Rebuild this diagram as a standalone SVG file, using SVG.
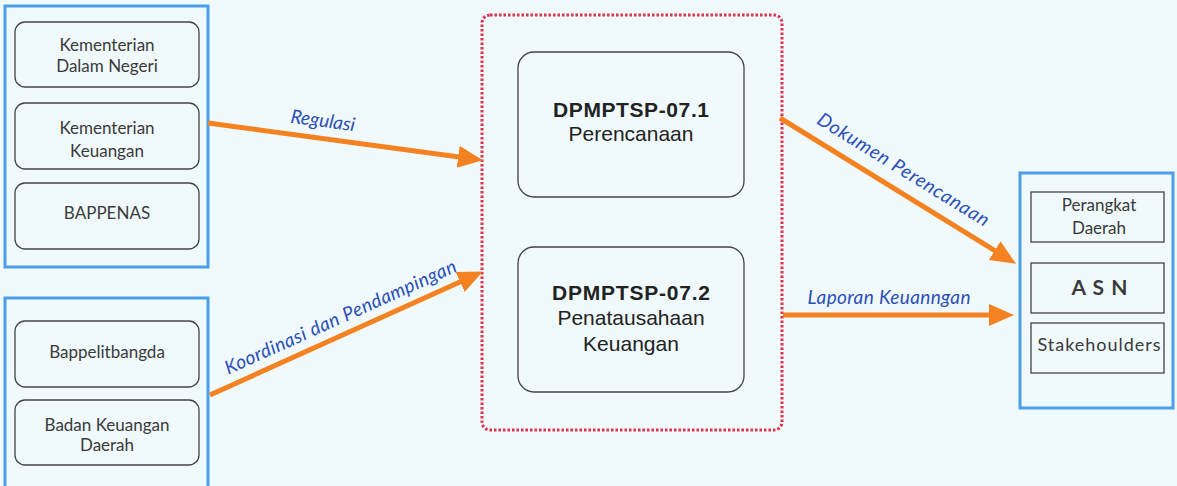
<svg xmlns="http://www.w3.org/2000/svg" width="1177" height="486" viewBox="0 0 1177 486">
<defs>
<style>
.grp{fill:none;stroke:#4a9fe8;stroke-width:3}
.box{fill:none;stroke:#444;stroke-width:1.3}
.t{font-family:Lato,"Open Sans",sans-serif;font-size:17px;fill:#3a3a3a;text-anchor:middle}
.m{font-family:"Liberation Sans",Arial,sans-serif;font-size:21px;fill:#222;text-anchor:middle}
.mb{font-weight:bold;font-size:21px}
.lbl{font-family:Lato,"Open Sans",sans-serif;font-style:italic;font-size:19px;fill:#2b4fb8;text-anchor:middle}
.arr{stroke:#f58220;stroke-width:5;fill:none;marker-end:url(#ah)}
</style>
<marker id="ah" markerUnits="userSpaceOnUse" markerWidth="26" markerHeight="24" refX="18" refY="11" orient="auto">
<path d="M0,0 L25,11 L0,22 z" fill="#f58220"/>
</marker>
</defs>
<rect width="1177" height="486" fill="#f0f9fc"/>

<g id="sources-top">
<rect class="grp" x="5" y="6" width="203" height="261"/>
</g>
<g id="kemendagri">
<rect class="box" x="15" y="22" width="184" height="65" rx="10"/>
<text class="t" x="107" y="51">Kementerian</text>
<text class="t" x="107" y="72">Dalam Negeri</text>
</g>
<g id="kemenkeu">
<rect class="box" x="15" y="103" width="184" height="66" rx="10"/>
<text class="t" x="107" y="134">Kementerian</text>
<text class="t" x="107" y="157">Keuangan</text>
</g>
<g id="bappenas">
<rect class="box" x="15" y="183" width="184" height="66" rx="10"/>
<text class="t" x="107" y="219">BAPPENAS</text>
</g>

<g id="sources-bottom">
<rect class="grp" x="5" y="298" width="203" height="200"/>
</g>
<g id="bappelitbangda">
<rect class="box" x="15" y="321" width="184" height="66" rx="10"/>
<text class="t" x="107" y="358">Bappelitbangda</text>
</g>
<g id="bkd">
<rect class="box" x="15" y="400" width="184" height="65" rx="10"/>
<text class="t" x="107" y="431">Badan Keuangan</text>
<text class="t" x="107" y="451">Daerah</text>
</g>

<g id="center">
<rect x="482" y="15" width="300" height="415" rx="8" fill="none" stroke="#e0304a" stroke-width="3" stroke-dasharray="2.5 2"/>
</g>
<g id="dpmptsp-071">
<rect class="box" x="518" y="52" width="226" height="145" rx="16"/>
<text class="m mb" x="631" y="117" textLength="156">DPMPTSP-07.1</text>
<text class="m" x="631" y="141">Perencanaan</text>
</g>
<g id="dpmptsp-072">
<rect class="box" x="518" y="247" width="226" height="145" rx="16"/>
<text class="m mb" x="631" y="300" textLength="158">DPMPTSP-07.2</text>
<text class="m" x="631" y="325">Penatausahaan</text>
<text class="m" x="631" y="351">Keuangan</text>
</g>

<g id="targets">
<rect class="grp" x="1020" y="173" width="153" height="235"/>
</g>
<g id="perangkat-daerah">
<rect class="box" x="1031" y="192" width="133" height="50"/>
<text class="t" x="1099" y="211">Perangkat</text>
<text class="t" x="1099" y="234">Daerah</text>
</g>
<g id="asn">
<rect class="box" x="1031" y="263" width="133" height="50"/>
<text class="t" x="1100" y="295" style="font-size:21px;font-weight:bold;letter-spacing:1px">A S N</text>
</g>
<g id="stakeholders">
<rect class="box" x="1031" y="323" width="133" height="50"/>
<text class="t" x="1099" y="351" style="font-size:18px" textLength="123">Stakehoulders</text>
</g>

<g id="connectors">
<line class="arr" x1="208" y1="123" x2="476" y2="159.2"/>
<line class="arr" x1="210" y1="395" x2="476.5" y2="274.5"/>
<line class="arr" x1="780" y1="118" x2="1010" y2="260"/>
<line class="arr" x1="783" y1="315" x2="1007" y2="315"/>
<text class="lbl" transform="translate(322,127) rotate(7.7)">Regulasi</text>
<text class="lbl" transform="translate(343,323) rotate(-24.3)" textLength="252">Koordinasi dan Pendampingan</text>
<text class="lbl" transform="translate(900,175) rotate(31.7)" textLength="198">Dokumen Perencanaan</text>
<text class="lbl" x="889" y="304" textLength="163">Laporan Keuanngan</text>
</g>
</svg>
